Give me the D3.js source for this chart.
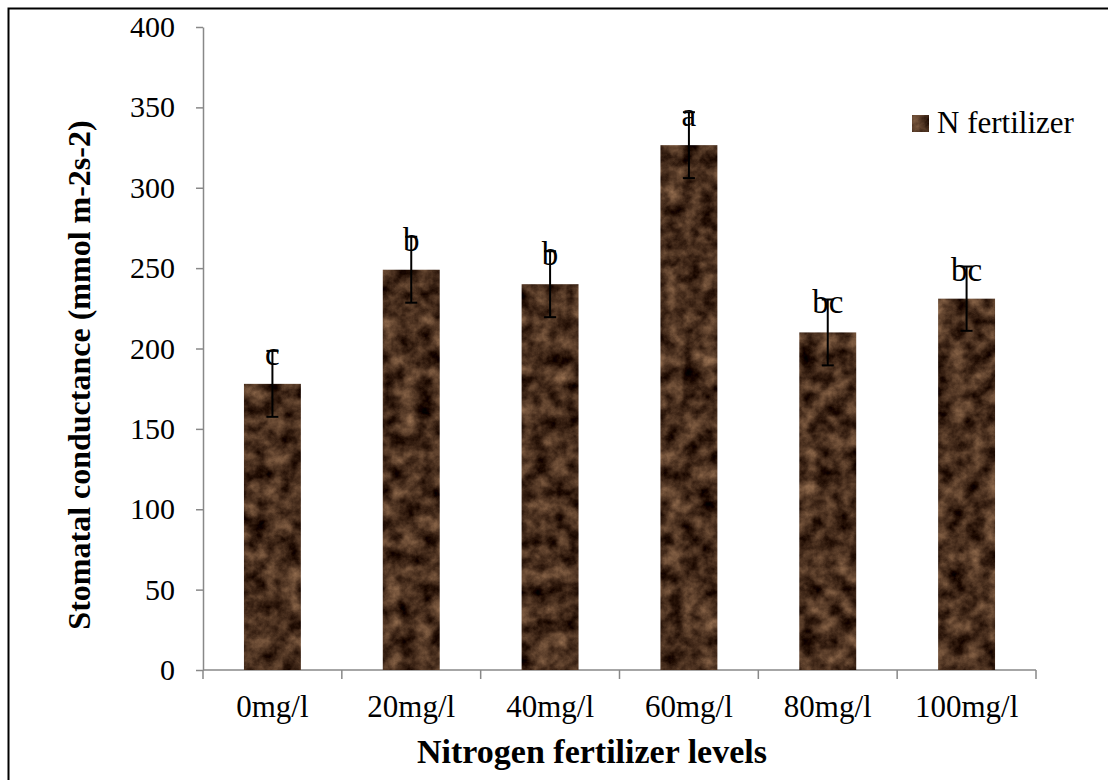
<!DOCTYPE html>
<html>
<head>
<meta charset="utf-8">
<script src="https://cdn.jsdelivr.net/npm/d3@7"></script>
<style>
  body { margin: 0; background: #fff; }
  svg { display: block; font-family: "Liberation Serif", "Times New Roman", serif; }
</style>
</head>
<body>
<div class="chart"></div>
<script>
const categories = ['0mg/l', '20mg/l', '40mg/l', '60mg/l', '80mg/l', '100mg/l'];
const values = [178, 249, 240, 326.5, 210, 231];
const errors = [20.5, 20.5, 20.5, 20.5, 20.5, 20];
const letters = ['c', 'b', 'b', 'a', 'bc', 'bc'];
const yTicks = [0, 50, 100, 150, 200, 250, 300, 350, 400];
const seriesName = 'N fertilizer';

const dimensions = {
    width: 1108,
    height: 780,
    margin: { left: 203, right: 72, top: 27, bottom: 110 }
};
const axisColor = '#888888';

const svg = d3.select('.chart').append('svg')
    .attr('width', dimensions.width)
    .attr('height', dimensions.height);

// marble-ish brown texture for the bars
const defs = svg.append('defs');
const marble = defs.append('filter').attr('id', 'marble')
    .attr('x', 0).attr('y', 0).attr('width', 1).attr('height', 1)
    .attr('filterUnits', 'objectBoundingBox')
    .attr('color-interpolation-filters', 'sRGB');
marble.append('feTurbulence')
    .attr('type', 'fractalNoise')
    .attr('baseFrequency', 0.06)
    .attr('numOctaves', 5)
    .attr('seed', 11)
    .attr('result', 'noise');
marble.append('feColorMatrix')
    .attr('in', 'noise')
    .attr('type', 'matrix')
    .attr('values', '0.72 0 0 0 -0.08  0.6 0 0 0 -0.12  0.47 0 0 0 -0.12  0 0 0 0 1')
    .attr('result', 'tex');
marble.append('feComposite')
    .attr('in', 'tex').attr('in2', 'SourceGraphic').attr('operator', 'in');

const x = d3.scaleBand()
    .domain(categories)
    .range([dimensions.margin.left, dimensions.width - dimensions.margin.right])
    .paddingInner(0.59)
    .paddingOuter(0.295);

const y = d3.scaleLinear()
    .domain([0, 400])
    .range([dimensions.height - dimensions.margin.bottom, dimensions.margin.top]);

const y0 = y(0);
const step = x.step();
const left = dimensions.margin.left;

// outer frame
svg.append('rect')
    .attr('x', 8.5).attr('y', 8.5)
    .attr('width', 1130).attr('height', 800)
    .attr('fill', 'none').attr('stroke', '#000').attr('stroke-width', 2);

// y axis
svg.append('g')
    .attr('transform', `translate(${left},0)`)
    .call(d3.axisLeft(y).tickValues(yTicks).tickSize(7).tickPadding(21).tickSizeOuter(0))
    .call(g => g.selectAll('.domain, .tick line').attr('stroke', axisColor).attr('stroke-width', 1.5))
    .call(g => g.selectAll('.tick text')
        .attr('fill', '#000')
        .style('font-size', '30px')
        .style('font-family', '"Liberation Serif", serif'));

// x axis line + boundary ticks
const xAxis = svg.append('g');
xAxis.append('line')
    .attr('x1', left).attr('x2', left + step * categories.length)
    .attr('y1', y0).attr('y2', y0)
    .attr('stroke', axisColor).attr('stroke-width', 1.5);
xAxis.selectAll('line.tick')
    .data(d3.range(categories.length + 1))
    .join('line')
    .attr('class', 'tick')
    .attr('x1', i => left + i * step).attr('x2', i => left + i * step)
    .attr('y1', y0).attr('y2', y0 + 9)
    .attr('stroke', axisColor).attr('stroke-width', 1.5);
xAxis.selectAll('text')
    .data(categories)
    .join('text')
    .attr('x', d => x(d) + x.bandwidth() / 2)
    .attr('y', y0 + 47)
    .attr('text-anchor', 'middle')
    .style('font-size', '31px')
    .text(d => d);

// bars
svg.append('g')
    .selectAll('rect')
    .data(categories)
    .join('rect')
    .attr('x', d => x(d))
    .attr('width', x.bandwidth())
    .attr('y', (d, i) => y(values[i]))
    .attr('height', (d, i) => y0 - y(values[i]))
    .attr('fill', '#4a2c18')
    .attr('filter', 'url(#marble)');

// error bars
const err = svg.append('g').attr('stroke', '#000').attr('stroke-width', 2);
categories.forEach((c, i) => {
    const cx = x(c) + x.bandwidth() / 2;
    const top = y(values[i] + errors[i]);
    const bot = y(values[i] - errors[i]);
    err.append('line').attr('x1', cx).attr('x2', cx).attr('y1', top).attr('y2', bot);
    err.append('line').attr('x1', cx - 6).attr('x2', cx + 6).attr('y1', top).attr('y2', top);
    err.append('line').attr('x1', cx - 6).attr('x2', cx + 6).attr('y1', bot).attr('y2', bot);
});

// significance letters
svg.append('g')
    .selectAll('text')
    .data(categories)
    .join('text')
    .attr('x', d => x(d) + x.bandwidth() / 2)
    .attr('y', (d, i) => y(values[i] + errors[i]) + 14)
    .attr('text-anchor', 'middle')
    .style('font-size', '33px')
    .text((d, i) => letters[i]);

// axis titles
svg.append('text')
    .attr('x', 592).attr('y', 763)
    .attr('text-anchor', 'middle')
    .style('font-size', '34px').style('font-weight', 'bold')
    .text('Nitrogen fertilizer levels');

svg.append('text')
    .attr('transform', `translate(90,375) rotate(-90)`)
    .attr('text-anchor', 'middle')
    .style('font-size', '32px').style('font-weight', 'bold')
    .text('Stomatal conductance (mmol m-2s-2)');

// legend
const legend = svg.append('g').attr('transform', 'translate(912,115)');
legend.append('rect')
    .attr('width', 17).attr('height', 17)
    .attr('fill', '#4a2c18')
    .attr('filter', 'url(#marble)');
legend.append('text')
    .attr('x', 25).attr('y', 18)
    .style('font-size', '31px')
    .text(seriesName);
</script>
</body>
</html>
